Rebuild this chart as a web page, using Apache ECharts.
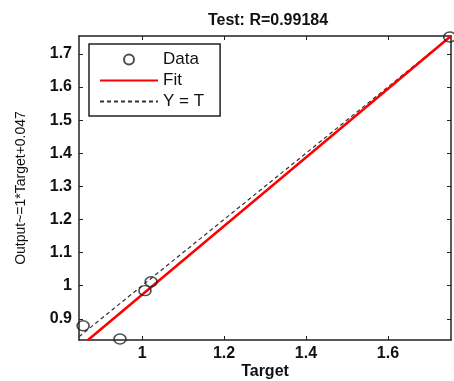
<!DOCTYPE html>
<html>
<head>
<meta charset="utf-8">
<script src="https://cdn.jsdelivr.net/npm/echarts@6/dist/echarts.min.js"></script>
<style>
  html, body { margin: 0; padding: 0; background: #fff; }
  #chart { width: 454px; height: 381px; }
</style>
</head>
<body>
<div id="chart"></div>
<script>
// values
const dataX = [0.856, 0.946, 1.007, 1.022, 1.751]
const dataY = [0.879, 0.839, 0.985, 1.012, 1.751]
const fitX = [0.868, 1.754]
const fitY = [0.836, 1.754]
const identX = [0.846, 1.754]
const xTicks = [1, 1.2, 1.4, 1.6]
const yTicks = [0.9, 1, 1.1, 1.2, 1.3, 1.4, 1.5, 1.6, 1.7]

const font = 'Liberation Sans, Arial, sans-serif'
const zip = (xs, ys) => xs.map((x, i) => [x, ys[i]])

const chart = echarts.init(document.getElementById('chart'))

const baseX = {
  type: 'value',
  min: 0.846,
  max: 1.754,
  axisLine: { show: true, onZero: false, lineStyle: { color: '#222', width: 1.5 } },
  axisTick: { show: true, inside: true, length: 4, customValues: xTicks, lineStyle: { color: '#222' } },
  splitLine: { show: false }
}
const baseY = {
  type: 'value',
  min: 0.836,
  max: 1.754,
  axisLine: { show: true, onZero: false, lineStyle: { color: '#222', width: 1.5 } },
  axisTick: { show: true, inside: true, length: 4, customValues: yTicks, lineStyle: { color: '#222' } },
  splitLine: { show: false }
}

chart.setOption({
  animation: false,
  title: {
    text: 'Test: R=0.99184',
    left: 263,
    textAlign: 'center',
    top: 8,
    textStyle: { fontFamily: font, fontSize: 16, fontWeight: 'bold', color: '#111' }
  },
  legend: {
    orient: 'vertical',
    left: 89,
    top: 44,
    padding: [7, 16, 6, 10],
    itemWidth: 58,
    itemHeight: 10,
    itemGap: 4,
    borderColor: '#222',
    borderWidth: 1.5,
    backgroundColor: '#fff',
    textStyle: { fontFamily: font, fontSize: 17, color: '#111', padding: [0, 0, 0, 0] },
    data: [
      { name: 'Data', icon: 'circle' },
      { name: 'Fit', itemStyle: { opacity: 0 } },
      { name: 'Y = T', itemStyle: { opacity: 0 } }
    ]
  },
  grid: { left: 79, right: 3, top: 36, bottom: 41, outerBoundsMode: 'none' },
  xAxis: [
    Object.assign({}, baseX, {
      position: 'bottom',
      name: 'Target',
      nameLocation: 'middle',
      nameGap: 24,
      nameMoveOverlap: false,
      nameTextStyle: { fontFamily: font, fontSize: 16, fontWeight: 'bold', color: '#111' },
      axisLabel: { customValues: xTicks, fontFamily: font, fontSize: 16, fontWeight: 'bold', color: '#111', margin: 6 }
    }),
    Object.assign({}, baseX, { position: 'top', axisLabel: { show: false } })
  ],
  yAxis: [
    Object.assign({}, baseY, {
      position: 'left',
      name: 'Output~=1*Target+0.047',
      nameLocation: 'middle',
      nameGap: 51,
      nameMoveOverlap: false,
      nameTextStyle: { fontFamily: font, fontSize: 14, color: '#111' },
      axisLabel: { customValues: yTicks, fontFamily: font, fontSize: 16, fontWeight: 'bold', color: '#111', margin: 7 }
    }),
    Object.assign({}, baseY, { position: 'right', axisLabel: { show: false } })
  ],
  series: [
    {
      name: 'Y = T',
      type: 'line',
      data: zip(identX, identX),
      symbol: 'none',
      lineStyle: { color: '#333', width: 1.2, type: [4, 3] },
      z: 2
    },
    {
      name: 'Fit',
      type: 'line',
      data: zip(fitX, fitY),
      symbol: 'none',
      lineStyle: { color: '#ff0000', width: 2.5 },
      itemStyle: { color: '#ff0000' },
      z: 3
    },
    {
      name: 'Data',
      type: 'scatter',
      data: zip(dataX, dataY),
      symbol: 'circle',
      symbolSize: [12, 10],
      itemStyle: { color: 'rgba(0,0,0,0)', borderColor: '#222', borderWidth: 1.5 },
      z: 4
    }
  ]
})
</script>
</body>
</html>
